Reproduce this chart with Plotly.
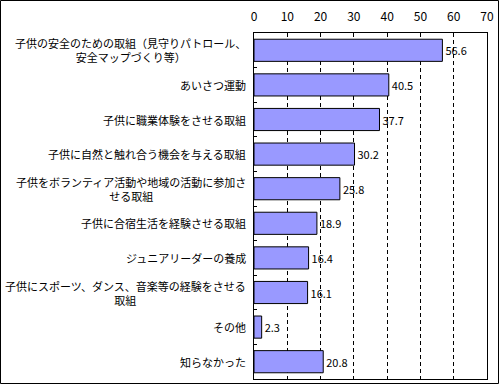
import plotly.graph_objects as go

categories = [
    "子供の安全のための取組（見守りパトロール、<br>安全マップづくり等）",
    "あいさつ運動",
    "子供に職業体験をさせる取組",
    "子供に自然と触れ合う機会を与える取組",
    "子供をボランティア活動や地域の活動に参加さ<br>せる取組",
    "子供に合宿生活を経験させる取組",
    "ジュニアリーダーの養成",
    "子供にスポーツ、ダンス、音楽等の経験をさせる<br>取組",
    "その他",
    "知らなかった",
]
values = [56.6, 40.5, 37.7, 30.2, 25.8, 18.9, 16.4, 16.1, 2.3, 20.8]
x_ticks = [0, 10, 20, 30, 40, 50, 60, 70]

FONT = "Noto Sans CJK JP"
W, H = 500, 385
L, R, T, B = 254, 13, 33, 6

fig = go.Figure(go.Bar(
    y=categories, x=values, orientation="h",
    marker=dict(color="#9999FF", line=dict(color="black", width=1)),
    text=[f"{v:.1f}" for v in values], textposition="outside",
    textfont=dict(family=FONT, size=11, color="black"),
    cliponaxis=False, width=0.64,
))

for c in categories:
    fig.add_annotation(x=0, xref="paper", y=c, yref="y", text=c,
                       xanchor="right", xshift=-6, align="center",
                       showarrow=False, font=dict(family=FONT, size=11, color="black"))

pw, ph = W - L - R, H - T - B
fig.add_shape(type="rect", xref="paper", yref="paper",
              x0=-(L - 0.5) / pw, x1=1 + (R - 1.5) / pw,
              y0=-(B - 1.5) / ph, y1=1 + (T - 0.5) / ph,
              line=dict(color="black", width=1), layer="above")

fig.update_layout(
    width=W, height=H, margin=dict(l=L, r=R, t=T, b=B),
    paper_bgcolor="white", plot_bgcolor="white", showlegend=False,
    font=dict(family=FONT, size=12, color="black"),
    xaxis=dict(side="top", range=[0, 70], tickvals=x_ticks,
               ticktext=[str(v) for v in x_ticks],
               showgrid=True, gridcolor="black", griddash="4px,3px", gridwidth=1,
               showline=True, linecolor="black", linewidth=1, mirror=True,
               zeroline=False, ticks="", ticklabelstandoff=6,
               tickfont=dict(family=FONT, size=12)),
    yaxis=dict(autorange="reversed", showticklabels=False,
               ticks="inside", ticklen=3, tickson="boundaries", tickcolor="black",
               showline=True, linecolor="black", linewidth=1, mirror=True,
               showgrid=False),
)

fig.write_html("out.html", config={"displayModeBar": False},
               post_script="document.body.style.margin='0';")
